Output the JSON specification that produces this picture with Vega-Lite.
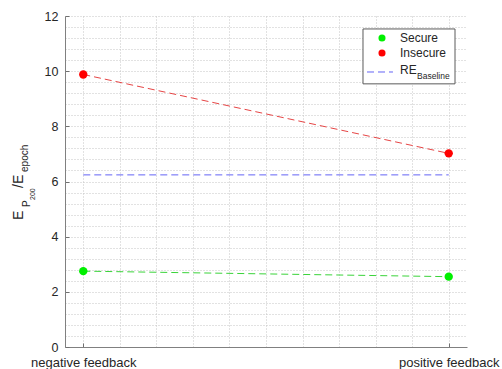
{
  "$schema": "https://vega.github.io/schema/vega-lite/v6.json",
  "width": 402,
  "height": 331,
  "autosize": {"type": "none"},
  "padding": {"left": 65, "top": 16, "right": 35, "bottom": 22},
  "background": "white",
  "config": {
    "view": {"stroke": null},
    "font": "Liberation Sans",
    "text": {"font": "Liberation Sans", "color": "#262626"}
  },
  "data": {
    "values": [
      {"x": 1, "series": "Secure", "value": 2.75},
      {"x": 2, "series": "Secure", "value": 2.55},
      {"x": 1, "series": "Insecure", "value": 9.88},
      {"x": 2, "series": "Insecure", "value": 7.02},
      {"x": 1, "series": "RE_Baseline", "value": 6.24},
      {"x": 2, "series": "RE_Baseline", "value": 6.24}
    ]
  },
  "resolve": {"scale": {"color": "independent"}},
  "layer": [
    {
      "mark": {"type": "line", "strokeWidth": 1, "strokeDash": [7, 4]},
      "encoding": {
        "x": {
          "field": "x",
          "type": "quantitative",
          "scale": {"domain": [0.95, 2.05], "nice": false, "zero": false},
          "axis": {
            "title": null,
            "values": [1, 1.1, 1.2, 1.3, 1.4, 1.5, 1.6, 1.7, 1.8, 1.9, 2],
            "tickCount": 100,
            "labelExpr": "datum.value == 1 ? 'negative feedback' : (datum.value == 2 ? 'positive feedback' : '')",
            "labelFont": "Liberation Sans",
            "labelFontSize": 13,
            "labelColor": "#262626",
            "labelPadding": 13,
            "labelFlush": false,
            "labelOverlap": false,
            "ticks": true,
            "tickSize": -4,
            "tickWidth": 1,
            "tickColor": "#707070",
            "tickOpacity": {"condition": {"test": "datum.value == 1 || datum.value == 2", "value": 1}, "value": 0},
            "domainColor": "#808080",
            "grid": true,
            "gridColor": "#c4c4c4",
            "gridDash": [1, 2],
            "gridWidth": 1
          }
        },
        "y": {
          "field": "value",
          "type": "quantitative",
          "scale": {"domain": [0, 12], "nice": false, "zero": false},
          "axis": {
            "title": null,
            "values": [0, 0.4, 0.8, 1.2, 1.6, 2, 2.4, 2.8, 3.2, 3.6, 4, 4.4, 4.8, 5.2, 5.6, 6, 6.4, 6.8, 7.2, 7.6, 8, 8.4, 8.8, 9.2, 9.6, 10, 10.4, 10.8, 11.2, 11.6, 12],
            "tickCount": 100,
            "labelExpr": "datum.value % 2 == 0 ? format(datum.value, 'd') : ''",
            "labelFont": "Liberation Sans",
            "labelFontSize": 12.5,
            "labelColor": "#262626",
            "labelPadding": 11,
            "labelOverlap": false,
            "ticks": true,
            "tickSize": -4,
            "tickWidth": 1,
            "tickColor": "#707070",
            "tickOpacity": {"condition": {"test": "datum.value % 2 == 0", "value": 1}, "value": 0},
            "domainColor": "#808080",
            "grid": true,
            "gridColor": "#c4c4c4",
            "gridDash": [1, 2],
            "gridWidth": 1
          }
        },
        "detail": {"field": "series"},
        "color": {
          "field": "series",
          "type": "nominal",
          "scale": {"domain": ["Secure", "Insecure", "RE_Baseline"], "range": ["#3ad43a", "#e64545", "#6464f5"]},
          "legend": null
        }
      }
    },
    {
      "transform": [{"filter": "datum.series != 'RE_Baseline'"}],
      "mark": {"type": "point", "filled": true, "opacity": 1, "size": 70},
      "encoding": {
        "x": {"field": "x", "type": "quantitative"},
        "y": {"field": "value", "type": "quantitative"},
        "color": {
          "field": "series",
          "type": "nominal",
          "scale": {"domain": ["Secure", "Insecure"], "range": ["#00f000", "#ff0000"]},
          "legend": null
        }
      }
    },
    {
      "data": {"values": [{}]},
      "mark": {"type": "rect", "fill": "white", "stroke": "#5a5a5a", "strokeWidth": 1},
      "encoding": {
        "x": {"datum": 1.7654},
        "x2": {"datum": 2.0172},
        "y": {"datum": 11.53},
        "y2": {"datum": 9.54}
      }
    },
    {
      "data": {"values": [{}]},
      "mark": {"type": "point", "filled": true, "opacity": 1, "size": 50, "color": "#00f000"},
      "encoding": {"x": {"datum": 1.8174}, "y": {"datum": 11.2}}
    },
    {
      "data": {"values": [{}]},
      "mark": {"type": "point", "filled": true, "opacity": 1, "size": 50, "color": "#ff0000"},
      "encoding": {"x": {"datum": 1.8174}, "y": {"datum": 10.66}}
    },
    {
      "data": {"values": [{}]},
      "mark": {"type": "rule", "strokeWidth": 1, "strokeDash": [7, 4], "color": "#6464f5"},
      "encoding": {"x": {"datum": 1.7764}, "x2": {"datum": 1.8475}, "y": {"datum": 9.97}}
    },
    {
      "data": {"values": [{}]},
      "mark": {"type": "text", "fontSize": 12, "align": "left", "baseline": "middle"},
      "encoding": {"x": {"datum": 1.8667}, "y": {"datum": 11.2}, "text": {"value": "Secure"}}
    },
    {
      "data": {"values": [{}]},
      "mark": {"type": "text", "fontSize": 12, "align": "left", "baseline": "middle"},
      "encoding": {"x": {"datum": 1.8667}, "y": {"datum": 10.66}, "text": {"value": "Insecure"}}
    },
    {
      "data": {"values": [{}]},
      "mark": {"type": "text", "fontSize": 12, "align": "left", "baseline": "middle"},
      "encoding": {"x": {"datum": 1.8667}, "y": {"datum": 10.06}, "text": {"value": "RE"}}
    },
    {
      "data": {"values": [{}]},
      "mark": {"type": "text", "fontSize": 8.5, "align": "left", "baseline": "middle"},
      "encoding": {"x": {"datum": 1.9132}, "y": {"datum": 9.83}, "text": {"value": "Baseline"}}
    },
    {
      "data": {"values": [{}]},
      "mark": {"type": "text", "fontSize": 14, "angle": 270, "align": "left", "baseline": "alphabetic"},
      "encoding": {"x": {"datum": 0.8351}, "y": {"datum": 4.605}, "text": {"value": "E"}}
    },
    {
      "data": {"values": [{}]},
      "mark": {"type": "text", "fontSize": 10, "angle": 270, "align": "left", "baseline": "alphabetic"},
      "encoding": {"x": {"datum": 0.8543}, "y": {"datum": 5.076}, "text": {"value": "P"}}
    },
    {
      "data": {"values": [{}]},
      "mark": {"type": "text", "fontSize": 7, "angle": 270, "align": "left", "baseline": "alphabetic"},
      "encoding": {"x": {"datum": 0.8679}, "y": {"datum": 5.33}, "text": {"value": "200"}}
    },
    {
      "data": {"values": [{}]},
      "mark": {"type": "text", "fontSize": 14, "angle": 270, "align": "left", "baseline": "alphabetic"},
      "encoding": {"x": {"datum": 0.8351}, "y": {"datum": 5.765}, "text": {"value": "/E"}}
    },
    {
      "data": {"values": [{}]},
      "mark": {"type": "text", "fontSize": 10, "angle": 270, "align": "left", "baseline": "alphabetic"},
      "encoding": {"x": {"datum": 0.8488}, "y": {"datum": 6.345}, "text": {"value": "epoch"}}
    }
  ]
}
